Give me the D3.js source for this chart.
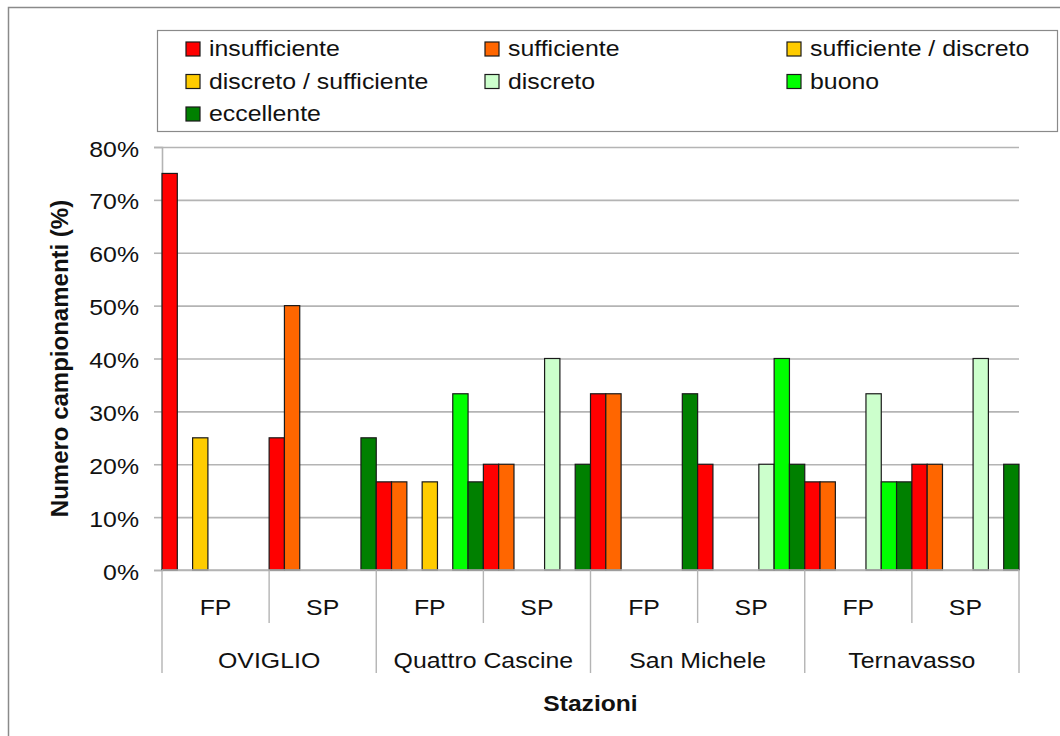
<!DOCTYPE html>
<html>
<head>
<meta charset="utf-8">
<script src="https://cdn.jsdelivr.net/npm/d3@7"></script>
<style>
    body { margin: 0; background: #fff; }
    svg { font-family: "Liberation Sans", Arial, sans-serif; }
</style>
</head>
<body>
<svg></svg>
<script>
const stations = ["OVIGLIO", "Quattro Cascine", "San Michele", "Ternavasso"];
const periods = ["FP", "SP"];
const seriesNames = ["insufficiente", "sufficiente", "sufficiente / discreto", "discreto / sufficiente", "discreto", "buono", "eccellente"];
const seriesColors = ["#ff0000", "#ff6600", "#ffcc00", "#ffcc00", "#ccffcc", "#00ff00", "#008000"];

// one value per station/period, order: OVIGLIO FP, OVIGLIO SP, Quattro Cascine FP, ...
const insufficiente = [75, 25, 16.67, 20, 33.33, 20, 16.67, 20];
const sufficiente = [0, 50, 16.67, 20, 33.33, 0, 16.67, 20];
const sufficienteDiscreto = [25, 0, 0, 0, 0, 0, 0, 0];
const discretoSufficiente = [0, 0, 16.67, 0, 0, 0, 0, 0];
const discreto = [0, 0, 0, 40, 0, 20, 33.33, 40];
const buono = [0, 0, 33.33, 0, 0, 40, 16.67, 0];
const eccellente = [0, 25, 16.67, 20, 33.33, 20, 16.67, 20];

const yTicks = [0, 10, 20, 30, 40, 50, 60, 70, 80];

const seriesValues = [insufficiente, sufficiente, sufficienteDiscreto, discretoSufficiente, discreto, buono, eccellente];

let width = 1060;
let height = 736;
let plotLeft = 162, plotRight = 1019, plotTop = 147, plotBottom = 570;
let stretch = 1.13;
let gridColor = "#b4b4b4";

let svg = d3.select("svg").attr("width", width).attr("height", height);

let categories = [];
stations.forEach((s) => periods.forEach((p) => categories.push(s + "|" + p)));

let xScale = d3.scaleBand().domain(categories).range([plotLeft, plotRight]).padding(0);
let xInner = d3.scaleBand().domain(d3.range(seriesNames.length)).range([0, xScale.bandwidth()]).padding(0);
let xStation = d3.scaleBand().domain(stations).range([plotLeft, plotRight]).padding(0);
let yScale = d3.scaleLinear().domain([0, 80]).range([plotBottom, plotTop]);

// outer frame
svg.append("path")
    .attr("d", "M8.5," + height + " L8.5,7.5 L" + width + ",7.5")
    .attr("fill", "none")
    .attr("stroke", "#8a8a8a")
    .attr("stroke-width", 1.5);

// gridlines
svg.append("g")
    .attr("transform", "translate(" + plotLeft + ",0)")
    .call(d3.axisLeft(yScale).tickValues(yTicks).tickSize(-(plotRight - plotLeft)).tickFormat(""))
    .call((g) => g.select(".domain").remove())
    .call((g) => g.selectAll("line").attr("stroke", gridColor).attr("stroke-width", 1.6));

// y axis
let yAxis = svg.append("g")
    .attr("transform", "translate(" + plotLeft + ",0)")
    .call(d3.axisLeft(yScale).tickValues(yTicks).tickSize(8).tickPadding(0).tickFormat((d) => d + "%"));
yAxis.select(".domain").attr("stroke", gridColor).attr("stroke-width", 1.6);
yAxis.selectAll("line").attr("stroke", gridColor).attr("stroke-width", 1.6);
yAxis.selectAll("text")
    .attr("x", null).attr("dy", null)
    .attr("transform", "translate(-23,9) scale(" + stretch + ",1)")
    .attr("font-size", 22).attr("fill", "#111")
    .style("font-family", "'Liberation Sans', Arial, sans-serif");

// bars
let groups = svg.append("g").selectAll("g")
    .data(categories)
    .enter()
    .append("g")
    .attr("transform", (d) => "translate(" + xScale(d) + ",0)");

groups.selectAll("rect")
    .data((d, ci) => seriesValues.map((vals, si) => ({ si: si, v: vals[ci] })).filter((e) => e.v > 0))
    .enter()
    .append("rect")
    .attr("x", (d) => xInner(d.si))
    .attr("y", (d) => yScale(d.v))
    .attr("width", xInner.bandwidth())
    .attr("height", (d) => yScale(0) - yScale(d.v))
    .attr("fill", (d) => seriesColors[d.si])
    .attr("stroke", "#1a1a1a")
    .attr("stroke-width", 1.2);

// x axis (two levels)
svg.append("line")
    .attr("x1", plotLeft).attr("x2", plotRight).attr("y1", plotBottom).attr("y2", plotBottom)
    .attr("stroke", gridColor).attr("stroke-width", 1.6);

let xAxis = svg.append("g")
    .attr("transform", "translate(0," + plotBottom + ")")
    .call(d3.axisBottom(xScale).tickSize(0).tickPadding(0).tickFormat((d) => d.split("|")[1]));
xAxis.select(".domain").remove();
xAxis.selectAll("text")
    .attr("y", null).attr("dy", null)
    .attr("transform", "translate(0,45) scale(" + stretch + ",1)")
    .attr("font-size", 22).attr("fill", "#111")
    .style("font-family", "'Liberation Sans', Arial, sans-serif");

let stationAxis = svg.append("g")
    .attr("transform", "translate(0," + plotBottom + ")")
    .call(d3.axisBottom(xStation).tickSize(0).tickPadding(0));
stationAxis.select(".domain").remove();
stationAxis.selectAll("text")
    .attr("y", null).attr("dy", null)
    .attr("transform", "translate(0,98) scale(" + stretch + ",1)")
    .attr("font-size", 22).attr("fill", "#111")
    .style("font-family", "'Liberation Sans', Arial, sans-serif");

// separators between categories
let bounds = categories.map((c, i) => ({ x: xScale(c), major: i % 2 == 0 }));
bounds.push({ x: plotRight, major: true });
svg.append("g").selectAll("line")
    .data(bounds)
    .enter()
    .append("line")
    .attr("x1", (d) => d.x).attr("x2", (d) => d.x)
    .attr("y1", plotBottom)
    .attr("y2", (d) => d.major ? 673 : 623)
    .attr("stroke", gridColor)
    .attr("stroke-width", 1.4);

// axis titles
svg.append("text")
    .attr("transform", "translate(" + ((plotLeft + plotRight) / 2) + ",711) scale(1.12,1)")
    .attr("text-anchor", "middle")
    .attr("font-size", 22).attr("font-weight", "bold").attr("fill", "#111")
    .text("Stazioni");

svg.append("text")
    .attr("transform", "translate(68," + ((plotTop + plotBottom) / 2) + ") rotate(-90)")
    .attr("text-anchor", "middle")
    .attr("font-size", 24).attr("font-weight", "bold").attr("fill", "#111")
    .text("Numero campionamenti (%)");

// legend
svg.append("rect")
    .attr("x", 157.5).attr("y", 30.5).attr("width", 900).attr("height", 101)
    .attr("fill", "#fff").attr("stroke", "#8a8a8a").attr("stroke-width", 1.2);

let legendCols = [186, 485, 787];
let legendRows = [42, 74.5, 107];
let legend = svg.append("g").selectAll("g")
    .data(seriesNames)
    .enter()
    .append("g")
    .attr("transform", (d, i) => "translate(" + legendCols[i % 3] + "," + legendRows[Math.floor(i / 3)] + ")");

legend.append("rect")
    .attr("width", 14).attr("height", 14)
    .attr("fill", (d, i) => seriesColors[i])
    .attr("stroke", "#1a1a1a").attr("stroke-width", 1.2);

legend.append("text")
    .attr("transform", "translate(23,14) scale(" + stretch + ",1)")
    .attr("font-size", 22).attr("fill", "#111")
    .text((d) => d);
</script>
</body>
</html>
